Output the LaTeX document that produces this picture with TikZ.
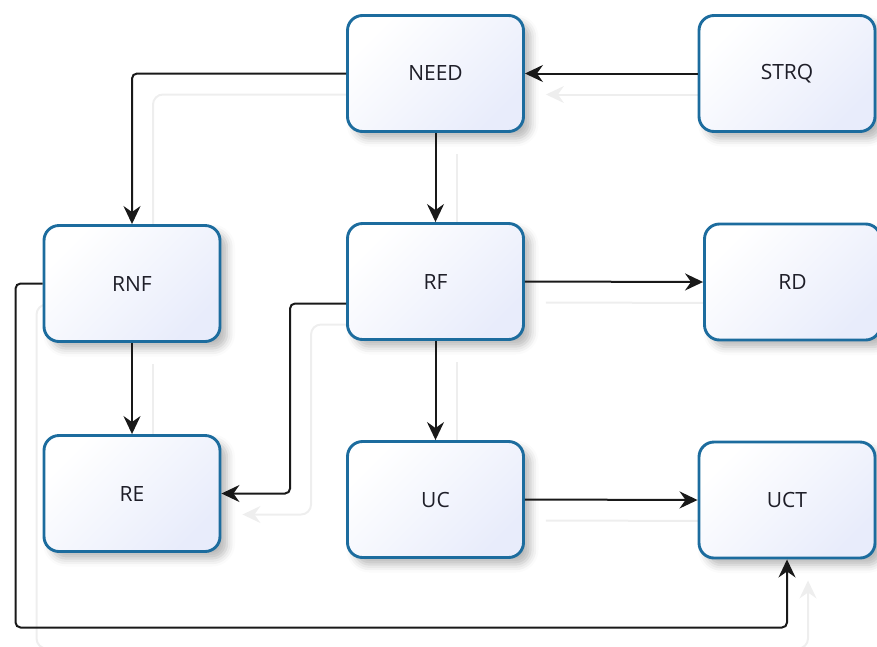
\documentclass[tikz,border=0pt]{standalone}
\usepackage{fontspec}
\setmainfont{Open Sans}
\usetikzlibrary{arrows.meta,shadows.blur,calc}

\definecolor{boxedge}{RGB}{28,108,158}
\definecolor{boxfill}{RGB}{232,236,251}
\definecolor{linkshade}{RGB}{238,238,238}
\definecolor{labelink}{RGB}{30,30,40}

\pgfdeclarelayer{under}
\pgfsetlayers{under,main}

\tikzset{
  block/.style={
    rectangle, rounded corners=15pt,
    minimum width=176pt, minimum height=116pt,
    draw=boxedge, line width=2.9pt,
    shading=axis, top color=white, bottom color=boxfill, shading angle=45,
    blur shadow={shadow xshift=7pt, shadow yshift=-7pt,
                 shadow blur radius=8pt, shadow opacity=28},
    font=\fontsize{21}{25}\selectfont, text=labelink
  },
  tipshape/.style={-{Stealth[length=18pt,width=17pt,inset=6pt]}},
  conn/.style={
    draw=black!90, line width=2pt, rounded corners=5pt, tipshape
  },
  connshade/.style={
    draw=linkshade, line width=2pt, rounded corners=10pt, tipshape,
    transform canvas={shift={(21pt,-21pt)}}
  }
}

\begin{document}
\begin{tikzpicture}[x=1pt,y=1pt]
\useasboundingbox (0,0) rectangle (877,-646);

% boxes
\node[block] (NEED) at (435.5,-73.5) {NEED};
\node[block] (STRQ) at (787,-73.5) {STRQ};
\node[block] (RNF)  at (132,-283.5) {RNF};
\node[block] (RF)   at (435.5,-281.5) {RF};
\node[block] (RD)   at (792.5,-282) {RD};
\node[block] (RE)   at (132,-493.5) {RE};
\node[block] (UC)   at (435.5,-499.5) {UC};
\node[block] (UCT)  at (787,-500) {UCT};

% faint offset copies of the links, beneath the boxes
\begin{pgfonlayer}{under}
  \draw[connshade] (NEED.west) -| (RNF.north);
  \draw[connshade] (STRQ.west) -- (NEED.east);
  \draw[connshade] (NEED.south) -- (RF.north);
  \draw[connshade] (RF.east) -- (RD.west);
  \draw[connshade] ([yshift=-22pt]RF.west) -- ++(-56,0) |- (RE.east);
  \draw[connshade] (RF.south) -- (UC.north);
  \draw[connshade] (RNF.south) -- (RE.north);
  \draw[connshade] (UC.east) -- (UCT.west);
  \draw[connshade] (RNF.west) -| ++(-27,-344) -| (UCT.south);
\end{pgfonlayer}

% links
\draw[conn] (NEED.west) -| (RNF.north);
\draw[conn] (STRQ.west) -- (NEED.east);
\draw[conn] (NEED.south) -- (RF.north);
\draw[conn] (RF.east) -- (RD.west);
\draw[conn] ([yshift=-22pt]RF.west) -- ++(-56,0) |- (RE.east);
\draw[conn] (RF.south) -- (UC.north);
\draw[conn] (RNF.south) -- (RE.north);
\draw[conn] (UC.east) -- (UCT.west);
\draw[conn] (RNF.west) -| ++(-27,-344) -| (UCT.south);
\end{tikzpicture}
\end{document}
